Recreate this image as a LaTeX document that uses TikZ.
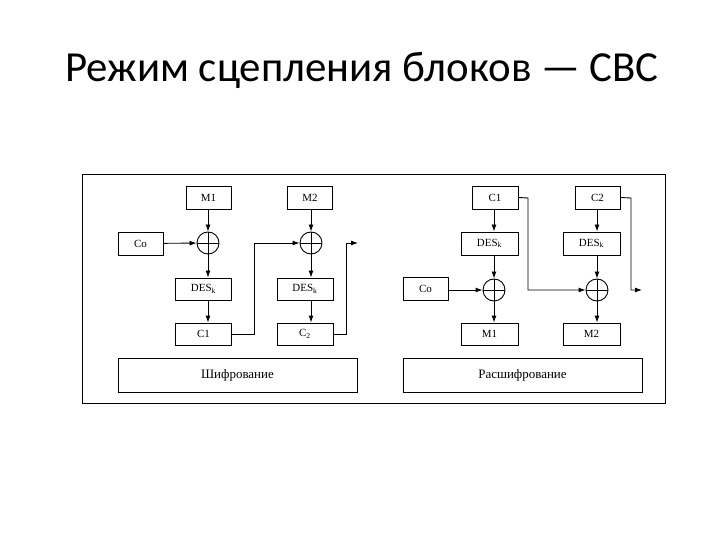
\documentclass[tikz,border=0pt]{standalone}
\usetikzlibrary{arrows.meta}
\usepackage{fontspec}
\setmainfont{Liberation Serif}
\newfontfamily\titlefont{Carlito}
\begin{document}
\begin{tikzpicture}[x=1bp,y=-1bp,line width=0.9bp,
  box/.style={draw,inner sep=0pt,font=\fontsize{11}{13}\selectfont},
  xr/.style={draw,circle,minimum size=22bp,inner sep=0pt,path picture={\draw (path picture bounding box.north)--(path picture bounding box.south) (path picture bounding box.west)--(path picture bounding box.east);}},
  ar/.style={-{Latex[length=7bp,width=5bp]}}]
\useasboundingbox (0,0) rectangle (720,540);
\node[font=\titlefont\fontsize{43}{46}\selectfont] (title) at (362,70) {Режим сцепления блоков — CBC};
\draw (82,174) rectangle (665,403);
% encryption
\node[box,minimum width=45bp,minimum height=23bp] (m1) at (208.5,197.5) {M1};
\node[box,minimum width=45bp,minimum height=23bp] (co) at (140.5,243.5) {Co};
\node[xr] (x1) at (208,243) {};
\node[box,minimum width=56bp,minimum height=22bp] (d1) at (203.5,289) {DES\textsubscript{k}};
\node[box,minimum width=56bp,minimum height=22bp] (c1) at (203.5,334) {C1};
\node[box,minimum width=45bp,minimum height=23bp] (m2) at (310,197.5) {M2};
\node[xr] (x2) at (311,243) {};
\node[box,minimum width=56bp,minimum height=22bp] (d2) at (305,289) {DES\textsubscript{k}};
\node[box,minimum width=56bp,minimum height=22bp] (c2) at (305,334) {C\textsubscript{2}};
\node[box,minimum width=239bp,minimum height=34bp,font=\fontsize{13}{15}\selectfont] (enc) at (237.5,375) {Шифрование};
\draw[ar] (m1.south-|x1) -- (x1);
\draw[ar] (co) -- (x1);
\draw[ar] (x1) -- (d1.north-|x1);
\draw[ar] (d1.south-|x1) -- (c1.north-|x1);
\draw[ar] (m2.south-|x2) -- (x2);
\draw[ar] (x2) -- (d2.north-|x2);
\draw[ar] (d2.south-|x2) -- (c2.north-|x2);
\draw[ar] (c1.east) -- (254,334) -- (254,243) -- (x2.west);
\coordinate (o1) at (358,243);
\draw[ar] (c2.east) -- (346,334) -- (346,243) -- (o1);
% decryption
\node[box,minimum width=46bp,minimum height=23bp] (k1) at (495,197.5) {C1};
\node[box,minimum width=45bp,minimum height=23bp] (k2) at (597.5,197.5) {C2};
\node[box,minimum width=57bp,minimum height=23bp] (e1) at (489.5,243.5) {DES\textsubscript{k}};
\node[box,minimum width=57bp,minimum height=23bp] (e2) at (591.5,243.5) {DES\textsubscript{k}};
\node[box,minimum width=45bp,minimum height=23bp] (cd) at (425.5,288.5) {Co};
\node[xr] (y1) at (494,290) {};
\node[xr] (y2) at (597,290) {};
\node[box,minimum width=57bp,minimum height=22bp] (p1) at (489.5,334) {M1};
\node[box,minimum width=57bp,minimum height=22bp] (p2) at (591.5,334) {M2};
\node[box,minimum width=239bp,minimum height=34bp,font=\fontsize{13}{15}\selectfont] (dec) at (522.5,375) {Расшифрование};
\draw[ar] (k1.south-|y1) -- (e1.north-|y1);
\draw[ar] (k2.south-|y2) -- (e2.north-|y2);
\draw[ar] (e1.south-|y1) -- (y1);
\draw[ar] (e2.south-|y2) -- (y2);
\draw[ar] (cd.east|-y1) -- (y1);
\draw[ar] (y1) -- (p1.north-|y1);
\draw[ar] (y2) -- (p2.north-|y2);
\draw[ar] (k1.east) -- (528,198) -- (528,290) -- (y2.west);
\coordinate (o2) at (642,290);
\draw[ar] (k2.east) -- (631,198) -- (631,290) -- (o2);
\end{tikzpicture}
\end{document}
